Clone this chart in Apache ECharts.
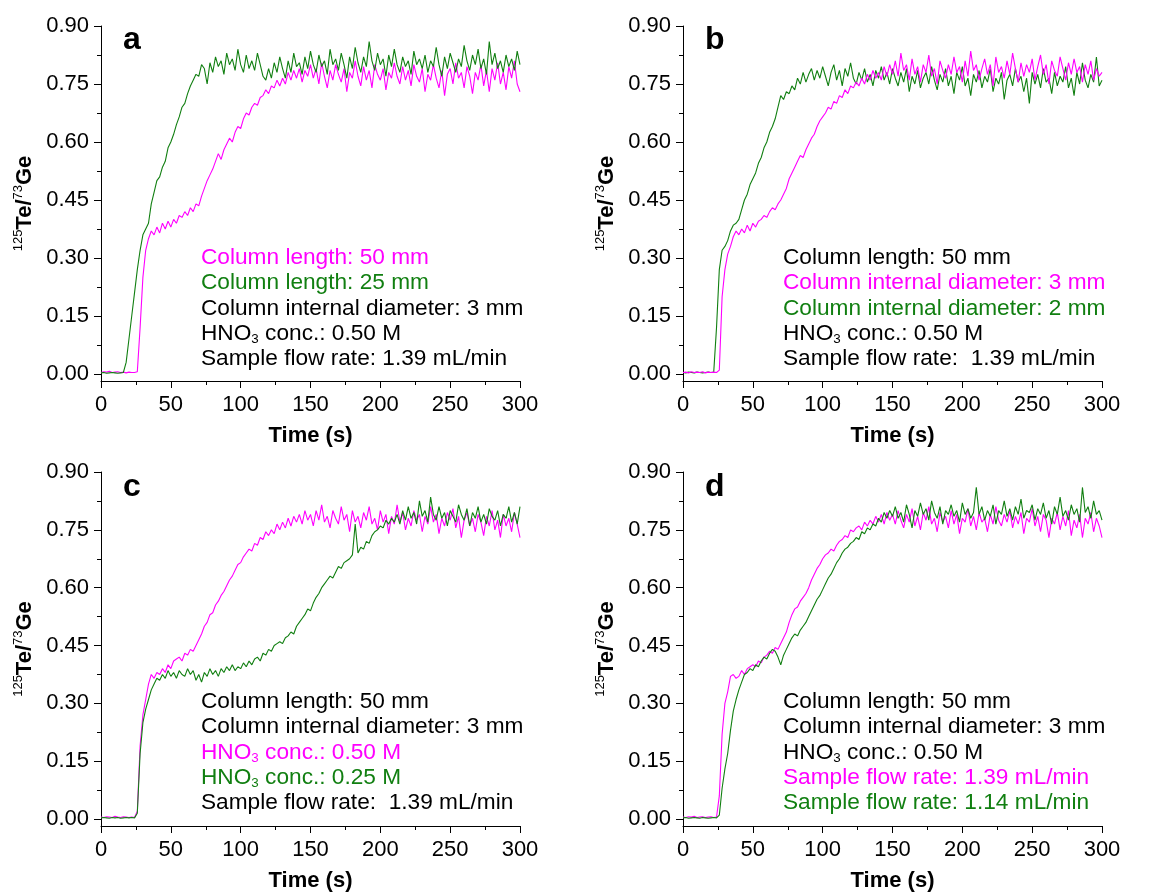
<!DOCTYPE html>
<html><head><meta charset="utf-8">
<script src="https://cdn.jsdelivr.net/npm/echarts@6/dist/echarts.min.js"></script>
<style>html,body{margin:0;padding:0;background:#fff}#c{width:1150px;height:893px}</style>
</head><body><div id="c"></div>
<script>
// time axis (s)
const t = [0,2,4,6,8,10,12,14,16,18,20,22,24,26,28,30,32,34,36,38,40,42,44,46,48,50,52,54,56,58,60,62,64,66,68,70,72,74,76,78,80,82,84,86,88,90,92,94,96,98,100,102,104,106,108,110,112,114,116,118,120,122,124,126,128,130,132,134,136,138,140,142,144,146,148,150,152,154,156,158,160,162,164,166,168,170,172,174,176,178,180,182,184,186,188,190,192,194,196,198,200,202,204,206,208,210,212,214,216,218,220,222,224,226,228,230,232,234,236,238,240,242,244,246,248,250,252,254,256,258,260,262,264,266,268,270,272,274,276,278,280,282,284,286,288,290,292,294,296,298,300];

// panel a
const A_m = [0.004,0.006,0.005,0.007,0.004,0.005,0.006,0.004,0.005,0.003,
0.005,0.004,0.004,0.006,0.12,0.25,0.32,0.35,0.37,0.36,
0.38,0.365,0.39,0.375,0.395,0.38,0.40,0.39,0.41,0.405,
0.42,0.41,0.43,0.42,0.44,0.435,0.46,0.48,0.50,0.515,
0.53,0.55,0.57,0.555,0.58,0.595,0.61,0.60,0.625,0.64,
0.635,0.66,0.675,0.67,0.69,0.70,0.695,0.715,0.72,0.735,
0.725,0.745,0.74,0.76,0.745,0.765,0.75,0.78,0.76,0.785,
0.765,0.79,0.755,0.785,0.77,0.80,0.765,0.79,0.75,0.805,
0.77,0.74,0.785,0.76,0.80,0.775,0.755,0.79,0.73,0.78,
0.765,0.81,0.77,0.745,0.795,0.76,0.785,0.74,0.80,0.775,
0.76,0.79,0.735,0.78,0.765,0.805,0.77,0.75,0.795,0.76,
0.785,0.745,0.80,0.77,0.755,0.79,0.73,0.775,0.76,0.80,
0.765,0.74,0.785,0.72,0.775,0.79,0.75,0.805,0.765,0.78,
0.74,0.795,0.77,0.725,0.78,0.76,0.80,0.745,0.785,0.73,
0.79,0.76,0.805,0.75,0.78,0.735,0.795,0.765,0.81,0.75,
0.73];
const A_g = [0.003,0.004,0.002,0.003,0.004,0.003,0.002,0.003,0.004,0.03,
0.09,0.15,0.21,0.27,0.32,0.36,0.375,0.39,0.44,0.47,
0.50,0.51,0.535,0.55,0.585,0.60,0.62,0.645,0.665,0.69,
0.70,0.725,0.745,0.76,0.775,0.77,0.80,0.79,0.75,0.805,
0.78,0.82,0.795,0.81,0.775,0.83,0.80,0.815,0.785,0.84,
0.80,0.78,0.825,0.79,0.81,0.785,0.83,0.80,0.77,0.76,
0.79,0.765,0.805,0.78,0.82,0.79,0.765,0.81,0.78,0.83,
0.795,0.805,0.775,0.82,0.79,0.835,0.80,0.78,0.825,0.795,
0.81,0.775,0.84,0.80,0.815,0.785,0.83,0.80,0.765,0.82,
0.79,0.845,0.805,0.78,0.82,0.795,0.86,0.81,0.785,0.83,
0.80,0.815,0.77,0.825,0.795,0.84,0.80,0.78,0.82,0.795,
0.81,0.775,0.835,0.80,0.815,0.79,0.825,0.78,0.81,0.795,
0.845,0.80,0.77,0.82,0.79,0.83,0.805,0.78,0.815,0.795,
0.85,0.81,0.785,0.825,0.80,0.84,0.79,0.815,0.775,0.86,
0.80,0.83,0.79,0.81,0.78,0.825,0.795,0.815,0.785,0.835,
0.80];

// panel b
const B_m = [0.004,0.005,0.003,0.006,0.004,0.005,0.004,0.006,0.003,0.005,
0.004,0.005,0.004,0.01,0.20,0.27,0.31,0.33,0.355,0.37,
0.36,0.375,0.365,0.385,0.37,0.39,0.38,0.395,0.40,0.41,
0.405,0.42,0.43,0.425,0.44,0.45,0.465,0.48,0.505,0.52,
0.535,0.55,0.565,0.56,0.58,0.595,0.61,0.62,0.64,0.655,
0.665,0.675,0.69,0.685,0.705,0.70,0.72,0.715,0.735,0.725,
0.745,0.74,0.755,0.745,0.765,0.75,0.775,0.76,0.785,0.765,
0.78,0.76,0.795,0.77,0.80,0.775,0.81,0.77,0.83,0.785,
0.80,0.76,0.815,0.775,0.795,0.755,0.80,0.78,0.825,0.77,
0.79,0.75,0.81,0.785,0.765,0.80,0.775,0.82,0.78,0.795,
0.755,0.81,0.77,0.835,0.785,0.80,0.76,0.79,0.815,0.775,
0.80,0.745,0.82,0.78,0.795,0.765,0.81,0.775,0.83,0.79,
0.755,0.805,0.77,0.80,0.78,0.815,0.76,0.795,0.825,0.775,
0.80,0.75,0.81,0.785,0.77,0.82,0.79,0.76,0.805,0.775,
0.815,0.78,0.795,0.755,0.80,0.775,0.81,0.76,0.79,0.77,
0.78];
const B_g = [0.004,0.003,0.005,0.004,0.003,0.005,0.004,0.003,0.004,0.005,
0.004,0.005,0.12,0.27,0.32,0.33,0.345,0.37,0.385,0.39,
0.40,0.425,0.45,0.465,0.49,0.505,0.52,0.545,0.56,0.585,
0.60,0.625,0.64,0.66,0.69,0.72,0.71,0.73,0.725,0.745,
0.735,0.765,0.75,0.78,0.755,0.775,0.79,0.76,0.785,0.765,
0.795,0.77,0.745,0.78,0.80,0.76,0.785,0.745,0.79,0.77,
0.805,0.765,0.75,0.78,0.76,0.79,0.755,0.775,0.745,0.785,
0.765,0.795,0.76,0.78,0.75,0.79,0.765,0.745,0.78,0.755,
0.79,0.73,0.77,0.75,0.785,0.74,0.765,0.78,0.75,0.795,
0.76,0.735,0.775,0.755,0.79,0.745,0.77,0.725,0.78,0.76,
0.795,0.745,0.765,0.72,0.775,0.755,0.785,0.74,0.77,0.755,
0.79,0.73,0.765,0.75,0.78,0.71,0.76,0.775,0.745,0.79,
0.755,0.77,0.73,0.765,0.70,0.78,0.75,0.775,0.74,0.79,
0.755,0.765,0.725,0.78,0.745,0.77,0.755,0.795,0.74,0.765,
0.72,0.78,0.75,0.805,0.76,0.74,0.775,0.755,0.82,0.745,
0.76];

// panel c
const C_m = [0.005,0.004,0.006,0.005,0.004,0.007,0.005,0.004,0.006,0.005,
0.004,0.005,0.004,0.02,0.19,0.27,0.31,0.35,0.375,0.365,
0.38,0.375,0.39,0.38,0.40,0.39,0.41,0.415,0.42,0.41,
0.43,0.425,0.44,0.435,0.45,0.465,0.48,0.50,0.51,0.53,
0.535,0.555,0.565,0.58,0.59,0.605,0.62,0.63,0.645,0.66,
0.665,0.68,0.69,0.70,0.695,0.715,0.71,0.73,0.725,0.745,
0.735,0.75,0.74,0.765,0.75,0.77,0.755,0.78,0.76,0.785,
0.77,0.79,0.765,0.80,0.775,0.79,0.76,0.80,0.775,0.815,
0.77,0.785,0.755,0.80,0.78,0.765,0.81,0.775,0.79,0.745,
0.80,0.77,0.785,0.755,0.795,0.775,0.81,0.765,0.78,0.75,
0.80,0.77,0.79,0.74,0.785,0.765,0.815,0.77,0.795,0.75,
0.78,0.76,0.80,0.775,0.79,0.745,0.785,0.765,0.81,0.77,
0.79,0.74,0.78,0.76,0.795,0.775,0.805,0.755,0.785,0.73,
0.775,0.795,0.76,0.78,0.745,0.79,0.77,0.735,0.785,0.76,
0.80,0.75,0.775,0.73,0.79,0.76,0.78,0.745,0.795,0.765,
0.73];
const C_g = [0.003,0.004,0.003,0.002,0.004,0.003,0.004,0.002,0.003,0.004,
0.003,0.004,0.003,0.015,0.17,0.25,0.285,0.31,0.335,0.35,
0.365,0.36,0.375,0.365,0.385,0.37,0.38,0.365,0.385,0.375,
0.37,0.39,0.375,0.385,0.36,0.375,0.355,0.38,0.37,0.39,
0.375,0.385,0.37,0.39,0.38,0.395,0.385,0.40,0.385,0.395,
0.39,0.405,0.395,0.41,0.40,0.415,0.42,0.41,0.43,0.425,
0.44,0.435,0.45,0.455,0.46,0.455,0.47,0.475,0.485,0.48,
0.50,0.51,0.52,0.53,0.545,0.54,0.56,0.575,0.585,0.60,
0.61,0.62,0.63,0.625,0.64,0.655,0.65,0.665,0.67,0.675,
0.685,0.765,0.69,0.705,0.70,0.72,0.715,0.735,0.745,0.75,
0.76,0.755,0.775,0.765,0.78,0.77,0.79,0.765,0.80,0.775,
0.81,0.78,0.795,0.765,0.825,0.785,0.80,0.77,0.835,0.79,
0.775,0.81,0.78,0.795,0.76,0.80,0.785,0.77,0.815,0.79,
0.775,0.805,0.76,0.795,0.78,0.81,0.77,0.79,0.765,0.805,
0.785,0.775,0.80,0.76,0.79,0.78,0.81,0.77,0.795,0.765,
0.81];

// panel d
const D_m = [0.005,0.004,0.006,0.005,0.007,0.004,0.005,0.006,0.004,0.005,
0.006,0.004,0.005,0.06,0.22,0.30,0.33,0.37,0.375,0.365,
0.37,0.385,0.375,0.39,0.395,0.40,0.395,0.41,0.405,0.42,
0.425,0.435,0.43,0.445,0.44,0.455,0.47,0.485,0.51,0.53,
0.545,0.55,0.565,0.575,0.585,0.60,0.62,0.635,0.65,0.66,
0.675,0.685,0.69,0.70,0.695,0.71,0.72,0.725,0.735,0.73,
0.75,0.745,0.755,0.76,0.75,0.77,0.76,0.775,0.765,0.785,
0.77,0.79,0.765,0.795,0.775,0.79,0.765,0.80,0.775,0.755,
0.79,0.77,0.805,0.76,0.785,0.75,0.795,0.775,0.81,0.765,
0.78,0.745,0.795,0.77,0.785,0.755,0.80,0.765,0.79,0.74,
0.78,0.77,0.805,0.76,0.785,0.75,0.795,0.77,0.78,0.745,
0.79,0.765,0.81,0.775,0.76,0.79,0.77,0.80,0.755,0.785,
0.765,0.795,0.74,0.78,0.77,0.805,0.76,0.785,0.745,0.79,
0.775,0.73,0.78,0.765,0.795,0.75,0.785,0.76,0.80,0.735,
0.775,0.755,0.79,0.73,0.78,0.765,0.795,0.745,0.78,0.76,
0.73];
const D_g = [0.003,0.004,0.002,0.003,0.004,0.003,0.002,0.004,0.003,0.002,
0.003,0.004,0.003,0.01,0.08,0.13,0.17,0.23,0.28,0.31,
0.335,0.355,0.375,0.38,0.39,0.385,0.40,0.395,0.41,0.42,
0.415,0.43,0.44,0.435,0.42,0.40,0.425,0.44,0.455,0.47,
0.48,0.475,0.49,0.50,0.51,0.525,0.54,0.555,0.57,0.58,
0.595,0.61,0.625,0.635,0.65,0.665,0.675,0.69,0.70,0.705,
0.715,0.72,0.73,0.725,0.745,0.74,0.755,0.75,0.765,0.76,
0.78,0.77,0.795,0.78,0.80,0.785,0.81,0.78,0.795,0.77,
0.815,0.79,0.755,0.80,0.785,0.82,0.79,0.805,0.775,0.825,
0.795,0.78,0.81,0.765,0.80,0.79,0.815,0.785,0.80,0.77,
0.82,0.79,0.805,0.78,0.795,0.86,0.79,0.81,0.775,0.80,
0.785,0.815,0.765,0.80,0.79,0.825,0.785,0.805,0.775,0.81,
0.79,0.83,0.78,0.80,0.795,0.815,0.775,0.805,0.79,0.82,
0.78,0.80,0.765,0.81,0.79,0.835,0.785,0.80,0.775,0.815,
0.79,0.805,0.77,0.86,0.795,0.81,0.78,0.825,0.79,0.80,
0.775];

const yTicks = [0, 0.15, 0.30, 0.45, 0.60, 0.75, 0.90];
const yMinorTicks = [0.075, 0.225, 0.375, 0.525, 0.675, 0.825];
const panelLetters = ['a', 'b', 'c', 'd'];
const xName = 'Time (s)';
// annotation lines: [text, colourKey]
const notesA = [['Column length: 50 mm','m'],['Column length: 25 mm','g'],['Column internal diameter: 3 mm','k'],['HNO{sub|3} conc.: 0.50 M','k'],['Sample flow rate: 1.39 mL/min','k']];
const notesB = [['Column length: 50 mm','k'],['Column internal diameter: 3 mm','m'],['Column internal diameter: 2 mm','g'],['HNO{sub|3} conc.: 0.50 M','k'],['Sample flow rate:  1.39 mL/min','k']];
const notesC = [['Column length: 50 mm','k'],['Column internal diameter: 3 mm','k'],['HNO{sub|3} conc.: 0.50 M','m'],['HNO{sub|3} conc.: 0.25 M','g'],['Sample flow rate:  1.39 mL/min','k']];
const notesD = [['Column length: 50 mm','k'],['Column internal diameter: 3 mm','k'],['HNO{sub|3} conc.: 0.50 M','k'],['Sample flow rate: 1.39 mL/min','m'],['Sample flow rate: 1.14 mL/min','g']];

const COL = { m: '#FF00FF', g: '#117F11', k: '#000000' };
const FONT = '"Liberation Sans", Arial, Helvetica, sans-serif';

const panels = [
  { left: 101, top: 26, h: 355, series: [[A_m,'m'],[A_g,'g']], notes: notesA, noteX: 201, noteY: 258, letterY: 40 },
  { left: 683, top: 26, h: 355, series: [[B_g,'g'],[B_m,'m']], notes: notesB, noteX: 783, noteY: 258, letterY: 40 },
  { left: 101, top: 472, h: 356, series: [[C_m,'m'],[C_g,'g']], notes: notesC, noteX: 201, noteY: 702, letterY: 487 },
  { left: 683, top: 472, h: 356, series: [[D_m,'m'],[D_g,'g']], notes: notesD, noteX: 783, noteY: 702, letterY: 487 }
];
const PW = 419;
const YMIN = -0.018, YMAX = 0.9;

const grid = [], xAxis = [], yAxis = [], series = [], graphic = [];
panels.forEach((p, i) => {
  grid.push({ left: p.left, top: p.top, width: PW, height: p.h, containLabel: false });
  xAxis.push({
    gridIndex: i, type: 'value', min: 0, max: 300, interval: 50, position: 'bottom',
    axisLine: { show: true, onZero: false, lineStyle: { color: '#000', width: 1 } },
    axisTick: { show: true, inside: false, length: 7, lineStyle: { color: '#000', width: 1 } },
    minorTick: { show: true, splitNumber: 2, length: 4, lineStyle: { color: '#000', width: 1 } },
    axisLabel: { fontSize: 22, color: '#000', margin: 13, fontFamily: FONT },
    splitLine: { show: false }, minorSplitLine: { show: false },
    name: xName, nameLocation: 'middle', nameGap: 44,
    nameTextStyle: { fontSize: 22, fontWeight: 'bold', color: '#000', fontFamily: FONT }
  });
  yAxis.push({
    gridIndex: i, type: 'value', min: YMIN, max: YMAX, position: 'left',
    axisLine: { show: true, onZero: false, lineStyle: { color: '#000', width: 1 } },
    axisTick: { show: true, inside: false, length: 7, customValues: yTicks, lineStyle: { color: '#000', width: 1 } },
    axisLabel: { customValues: yTicks, formatter: v => v.toFixed(2), fontSize: 22, color: '#000', margin: 12, fontFamily: FONT },
    splitLine: { show: false },
    name: '{sup|125}{b|Te/}{sup|73}{b|Ge}', nameLocation: 'middle', nameRotate: 90, nameGap: 64,
    nameTextStyle: {
      color: '#000', fontFamily: FONT,
      rich: {
        sup: { fontSize: 13, fontFamily: FONT, color: '#000', verticalAlign: 'top', lineHeight: 13 },
        b: { fontSize: 22, fontWeight: 'bold', fontFamily: FONT, color: '#000', lineHeight: 25 }
      }
    }
  });
  p.series.forEach(([arr, c]) => {
    series.push({
      type: 'line', xAxisIndex: i, yAxisIndex: i,
      data: t.map((x, k) => [x, arr[k]]),
      showSymbol: false, symbol: 'none', clip: true,
      lineStyle: { width: 1.1, color: COL[c] }, itemStyle: { color: COL[c] },
      emphasis: { disabled: true }
    });
  });
  graphic.push({
    type: 'text', x: p.left + 22, y: p.letterY,
    style: { text: panelLetters[i], fontSize: 32, fontWeight: 'bold', fontFamily: FONT, fill: '#000', verticalAlign: 'middle', align: 'left' }
  });
  p.notes.forEach(([txt, c], k) => {
    graphic.push({
      type: 'text', x: p.noteX, y: p.noteY + k * 25.3, scaleX: 1.03, scaleY: 1,
      style: {
        text: txt, fontSize: 22, fontFamily: FONT, fill: COL[c], verticalAlign: 'middle', align: 'left', lineHeight: 25,
        rich: { sub: { fontSize: 13, fontFamily: FONT, fill: COL[c], verticalAlign: 'bottom', lineHeight: 11 } }
      }
    });
  });
});
// minor y ticks on helper axes
panels.forEach((p, i) => {
  yAxis.push({
    gridIndex: i, type: 'value', min: YMIN, max: YMAX, position: 'left', offset: 0,
    axisLine: { show: false },
    axisTick: { show: true, inside: false, length: 4, customValues: yMinorTicks, lineStyle: { color: '#000', width: 1 } },
    axisLabel: { show: false }, splitLine: { show: false }
  });
});

const chart = echarts.init(document.getElementById('c'), null, { renderer: 'canvas' });
chart.setOption({ animation: false, backgroundColor: '#fff', grid, xAxis, yAxis, series, graphic });
</script>
</body></html>
